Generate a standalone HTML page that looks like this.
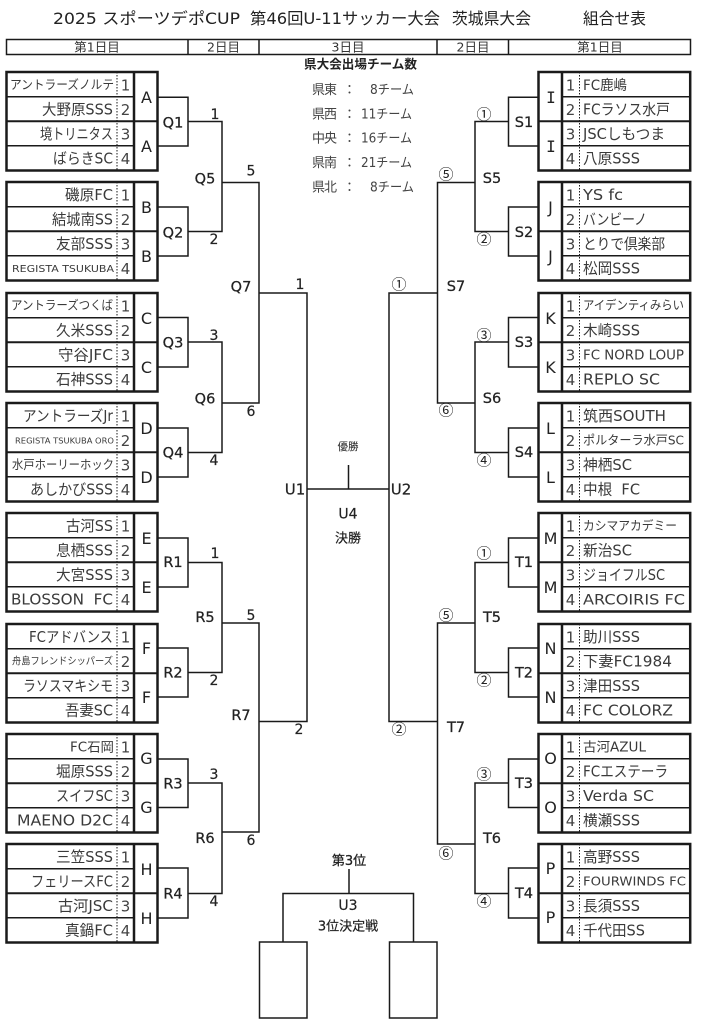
<!DOCTYPE html>
<html lang="ja">
<head>
<meta charset="utf-8">
<title>2025 スポーツデポCUP 組合せ表</title>
<style>
html,body{margin:0;padding:0;background:#fff;width:701px;height:1024px;overflow:hidden}
svg{display:block}
text{font-family:"DejaVu Sans","Noto Sans CJK JP",sans-serif;fill:#3a3a3a;font-size:15px}
.t{font-size:16px;fill:#222}
.h{font-size:12.5px;text-anchor:middle;fill:#333}
.b{font-size:12.5px;fill:#222;font-weight:bold}
.s{font-size:13px;fill:#444}
.num{font-size:15px;text-anchor:middle;fill:#444}
.g{font-size:16px;text-anchor:middle;fill:#222}
.l{font-size:14.5px;text-anchor:middle;fill:#222;stroke:#222;stroke-width:.25}
.m{font-size:14px;text-anchor:middle;fill:#222;stroke:#222;stroke-width:.2}
.x{font-size:12.5px}
.y{font-size:10px}
.z{font-size:8px}
.c{text-anchor:middle;fill:#222}
.o{font-family:"Noto Sans CJK JP",sans-serif;font-size:15px;text-anchor:middle;fill:#222}
path,rect,line{fill:none;stroke:#1a1a1a}
</style>
</head>
<body>
<svg width="701" height="1024" viewBox="0 0 701 1024" xmlns="http://www.w3.org/2000/svg">
<defs>
<g id="L">
<rect x="6.5" y="0" width="151" height="98.5" stroke-width="2.5"/>
<line x1="6" y1="24.8" x2="134" y2="24.8" stroke-width="1.5"/>
<line x1="6" y1="49.2" x2="158" y2="49.2" stroke-width="2"/>
<line x1="6" y1="73.8" x2="134" y2="73.8" stroke-width="1.5"/>
<line x1="134" y1="0" x2="134" y2="99" stroke-width="2.5"/>
<line x1="117" y1="0" x2="117" y2="99" stroke-width="1" stroke-dasharray="1.5 1.5"/>
</g>
<g id="R">
<rect x="538.5" y="0" width="151.7" height="98.5" stroke-width="2.5"/>
<line x1="562" y1="24.8" x2="690" y2="24.8" stroke-width="1.5"/>
<line x1="538" y1="49.2" x2="690" y2="49.2" stroke-width="2"/>
<line x1="562" y1="73.8" x2="690" y2="73.8" stroke-width="1.5"/>
<line x1="562" y1="0" x2="562" y2="99" stroke-width="2.5"/>
<line x1="579.5" y1="0" x2="579.5" y2="99" stroke-width="1" stroke-dasharray="1.5 1.5"/>
</g>
</defs>

<!-- title -->
<text class="t" x="53" y="24" textLength="187" lengthAdjust="spacingAndGlyphs">2025 スポーツデポCUP</text>
<text class="t" x="250" y="24" textLength="190" lengthAdjust="spacingAndGlyphs">第46回U-11サッカー大会</text>
<text class="t" x="452" y="24" textLength="79" lengthAdjust="spacingAndGlyphs">茨城県大会</text>
<text class="t" x="583" y="24" textLength="63" lengthAdjust="spacingAndGlyphs">組合せ表</text>

<!-- header -->
<rect x="6.5" y="39.5" width="684" height="15" stroke-width="1.5"/>
<path d="M188 39V55M259 39V55M437 39V55M508.5 39V55" stroke-width="1.5"/>
<text class="h" x="97" y="51.5">第1日目</text>
<text class="h" x="223.5" y="51.5">2日目</text>
<text class="h" x="348" y="51.5">3日目</text>
<text class="h" x="473" y="51.5">2日目</text>
<text class="h" x="600" y="51.5">第1日目</text>

<!-- team count -->
<text class="b" x="304" y="68.5" textLength="113" lengthAdjust="spacingAndGlyphs">県大会出場チーム数</text>
<text class="s" x="312" y="94" textLength="25">県東</text><text class="s" x="343" y="94">：</text><text class="s" x="370" y="94" textLength="44" lengthAdjust="spacingAndGlyphs">8チーム</text>
<text class="s" x="312" y="118.5" textLength="25">県西</text><text class="s" x="343" y="118.5">：</text><text class="s" x="361" y="118.5" textLength="51" lengthAdjust="spacingAndGlyphs">11チーム</text>
<text class="s" x="312" y="142.5" textLength="25">中央</text><text class="s" x="343" y="142.5">：</text><text class="s" x="361" y="142.5" textLength="51" lengthAdjust="spacingAndGlyphs">16チーム</text>
<text class="s" x="312" y="167" textLength="25">県南</text><text class="s" x="343" y="167">：</text><text class="s" x="361" y="167" textLength="51" lengthAdjust="spacingAndGlyphs">21チーム</text>
<text class="s" x="312" y="191.5" textLength="25">県北</text><text class="s" x="343" y="191.5">：</text><text class="s" x="370" y="191.5" textLength="44" lengthAdjust="spacingAndGlyphs">8チーム</text>

<!-- group grids -->
<use href="#L" y="72"/><use href="#L" y="182"/><use href="#L" y="293"/><use href="#L" y="403"/>
<use href="#L" y="513"/><use href="#L" y="624"/><use href="#L" y="734"/><use href="#L" y="844"/>
<use href="#R" y="72"/><use href="#R" y="182"/><use href="#R" y="293"/><use href="#R" y="403"/>
<use href="#R" y="513"/><use href="#R" y="624"/><use href="#R" y="734"/><use href="#R" y="844"/>

<!-- left brackets -->
<path stroke-width="1.5" d="
M158 97.3H188V146H158M188 121.5H222V231.5H188
M158 207H188V256H158
M222 182.5H259V403H222
M158 317.5H188V367H158M188 342H222V452.5H188
M158 428H188V477H158
M259 293H307V721.5H259
M158 538H188V587H158M188 562.5H222V672.5H188
M158 648H188V697H158
M222 623H259V832H222
M158 759H188V807.5H158M188 783H222V893.5H188
M158 868H188V918H158"/>

<!-- right brackets -->
<path stroke-width="1.5" d="
M538 97.3H508.5V146H538M508.5 121.5H475V231.5H508.5
M538 207H508.5V256H538
M475 182.5H437.5V403H475
M538 317.5H508.5V367H538M508.5 342H475V452.5H508.5
M538 428H508.5V477H538
M437.5 293H389V721.5H437.5
M538 538H508.5V587H538M508.5 562.5H475V672.5H508.5
M538 648H508.5V697H538
M475 623H437.5V844H475
M538 759H508.5V807.5H538M508.5 783H475V893.5H508.5
M538 868H508.5V918H538"/>

<!-- final & third place -->
<path stroke-width="1.5" d="M307 489H389M348.5 465V489"/>
<path stroke-width="1.5" d="M283 942V893.5H413.5V942M349 869V893.5"/>
<rect x="259.5" y="942" width="47.5" height="76" stroke-width="1.5"/>
<rect x="389.5" y="942" width="47.5" height="76" stroke-width="1.5"/>

<text class="c" x="348" y="450" style="font-size:10.5px">優勝</text>
<text class="m" x="348" y="518.5">U4</text>
<text class="c" x="348" y="542.5" style="font-size:13px;stroke:#222;stroke-width:.2">決勝</text>
<text class="c" x="349" y="865" style="font-size:13px;stroke:#222;stroke-width:.3">第3位</text>
<text class="m" x="348" y="910">U3</text>
<text class="c" x="348" y="930.5" style="font-size:13px;stroke:#222;stroke-width:.2">3位決定戦</text>

<!-- numbers left -->
<g>
<text class="num" x="125.5" y="90.5">1</text><text class="num" x="125.5" y="115">2</text><text class="num" x="125.5" y="139.5">3</text><text class="num" x="125.5" y="164">4</text>
<text class="num" x="125.5" y="200.5">1</text><text class="num" x="125.5" y="225">2</text><text class="num" x="125.5" y="249.5">3</text><text class="num" x="125.5" y="274">4</text>
<text class="num" x="125.5" y="311.5">1</text><text class="num" x="125.5" y="336">2</text><text class="num" x="125.5" y="360.5">3</text><text class="num" x="125.5" y="385">4</text>
<text class="num" x="125.5" y="421.5">1</text><text class="num" x="125.5" y="446">2</text><text class="num" x="125.5" y="470.5">3</text><text class="num" x="125.5" y="495">4</text>
<text class="num" x="125.5" y="531.5">1</text><text class="num" x="125.5" y="556">2</text><text class="num" x="125.5" y="580.5">3</text><text class="num" x="125.5" y="605">4</text>
<text class="num" x="125.5" y="642.5">1</text><text class="num" x="125.5" y="667">2</text><text class="num" x="125.5" y="691.5">3</text><text class="num" x="125.5" y="716">4</text>
<text class="num" x="125.5" y="752.5">1</text><text class="num" x="125.5" y="777">2</text><text class="num" x="125.5" y="801.5">3</text><text class="num" x="125.5" y="826">4</text>
<text class="num" x="125.5" y="862.5">1</text><text class="num" x="125.5" y="887">2</text><text class="num" x="125.5" y="911.5">3</text><text class="num" x="125.5" y="936">4</text>
</g>
<!-- numbers right -->
<g>
<text class="num" x="570.5" y="90.5">1</text><text class="num" x="570.5" y="115">2</text><text class="num" x="570.5" y="139.5">3</text><text class="num" x="570.5" y="164">4</text>
<text class="num" x="570.5" y="200.5">1</text><text class="num" x="570.5" y="225">2</text><text class="num" x="570.5" y="249.5">3</text><text class="num" x="570.5" y="274">4</text>
<text class="num" x="570.5" y="311.5">1</text><text class="num" x="570.5" y="336">2</text><text class="num" x="570.5" y="360.5">3</text><text class="num" x="570.5" y="385">4</text>
<text class="num" x="570.5" y="421.5">1</text><text class="num" x="570.5" y="446">2</text><text class="num" x="570.5" y="470.5">3</text><text class="num" x="570.5" y="495">4</text>
<text class="num" x="570.5" y="531.5">1</text><text class="num" x="570.5" y="556">2</text><text class="num" x="570.5" y="580.5">3</text><text class="num" x="570.5" y="605">4</text>
<text class="num" x="570.5" y="642.5">1</text><text class="num" x="570.5" y="667">2</text><text class="num" x="570.5" y="691.5">3</text><text class="num" x="570.5" y="716">4</text>
<text class="num" x="570.5" y="752.5">1</text><text class="num" x="570.5" y="777">2</text><text class="num" x="570.5" y="801.5">3</text><text class="num" x="570.5" y="826">4</text>
<text class="num" x="570.5" y="862.5">1</text><text class="num" x="570.5" y="887">2</text><text class="num" x="570.5" y="911.5">3</text><text class="num" x="570.5" y="936">4</text>
</g>

<!-- group letters left -->
<text class="g" x="146.5" y="103">A</text><text class="g" x="146.5" y="152">A</text>
<text class="g" x="146.5" y="213">B</text><text class="g" x="146.5" y="262">B</text>
<text class="g" x="146.5" y="324">C</text><text class="g" x="146.5" y="373">C</text>
<text class="g" x="146.5" y="434">D</text><text class="g" x="146.5" y="483">D</text>
<text class="g" x="146.5" y="544">E</text><text class="g" x="146.5" y="593">E</text>
<text class="g" x="146.5" y="654">F</text><text class="g" x="146.5" y="703">F</text>
<text class="g" x="146.5" y="764">G</text><text class="g" x="146.5" y="813">G</text>
<text class="g" x="146.5" y="875">H</text><text class="g" x="146.5" y="924">H</text>
<!-- group letters right -->
<text class="g" x="551" y="103" style="font-family:'DejaVu Sans Mono',monospace">I</text><text class="g" x="551" y="152" style="font-family:'DejaVu Sans Mono',monospace">I</text>
<text class="g" x="550.5" y="213">J</text><text class="g" x="550.5" y="262">J</text>
<text class="g" x="550.5" y="324">K</text><text class="g" x="550.5" y="373">K</text>
<text class="g" x="550.5" y="434">L</text><text class="g" x="550.5" y="483">L</text>
<text class="g" x="550.5" y="544">M</text><text class="g" x="550.5" y="593">M</text>
<text class="g" x="550.5" y="654">N</text><text class="g" x="550.5" y="703">N</text>
<text class="g" x="550.5" y="764">O</text><text class="g" x="550.5" y="813">O</text>
<text class="g" x="550.5" y="874">P</text><text class="g" x="550.5" y="923">P</text>

<!-- left teams -->
<text class="x" x="10" y="89" textLength="104" lengthAdjust="spacingAndGlyphs">アントラーズノルテ</text>
<text x="42" y="114.5" textLength="71" lengthAdjust="spacingAndGlyphs">大野原SSS</text>
<text x="40" y="139" textLength="73" lengthAdjust="spacingAndGlyphs">境トリニタス</text>
<text x="53" y="163.5" textLength="60" lengthAdjust="spacingAndGlyphs">ばらきSC</text>
<text x="65" y="200" textLength="48" lengthAdjust="spacingAndGlyphs">磯原FC</text>
<text x="52" y="224.5" textLength="61" lengthAdjust="spacingAndGlyphs">結城南SS</text>
<text x="56" y="249" textLength="57" lengthAdjust="spacingAndGlyphs">友部SSS</text>
<text class="y" x="12" y="272" textLength="102" lengthAdjust="spacingAndGlyphs">REGISTA TSUKUBA</text>
<text class="x" x="11" y="309.5" textLength="102" lengthAdjust="spacingAndGlyphs">アントラーズつくば</text>
<text x="56" y="335.5" textLength="57" lengthAdjust="spacingAndGlyphs">久米SSS</text>
<text x="58" y="360" textLength="55" lengthAdjust="spacingAndGlyphs">守谷JFC</text>
<text x="56" y="384.5" textLength="57" lengthAdjust="spacingAndGlyphs">石神SSS</text>
<text x="23" y="421" textLength="90" lengthAdjust="spacingAndGlyphs">アントラーズJr</text>
<text class="z" x="15" y="443.5" textLength="99" lengthAdjust="spacingAndGlyphs">REGISTA TSUKUBA ORO</text>
<text class="x" x="12" y="469" textLength="102" lengthAdjust="spacingAndGlyphs">水戸ホーリーホック</text>
<text x="30" y="494.5" textLength="83" lengthAdjust="spacingAndGlyphs">あしかびSSS</text>
<text x="66" y="531" textLength="47" lengthAdjust="spacingAndGlyphs">古河SS</text>
<text x="56" y="555.5" textLength="57" lengthAdjust="spacingAndGlyphs">息栖SSS</text>
<text x="56" y="580" textLength="57" lengthAdjust="spacingAndGlyphs">大宮SSS</text>
<text x="11" y="604.5" textLength="102" lengthAdjust="spacingAndGlyphs" xml:space="preserve" style="white-space:pre">BLOSSON  FC</text>
<text x="29" y="642" textLength="84" lengthAdjust="spacingAndGlyphs">FCアドバンス</text>
<text class="y" x="12" y="664.5" textLength="101" lengthAdjust="spacingAndGlyphs">舟島フレンドシッパーズ</text>
<text x="23" y="691" textLength="90" lengthAdjust="spacingAndGlyphs">ラソスマキシモ</text>
<text x="65" y="715.5" textLength="48" lengthAdjust="spacingAndGlyphs">吾妻SC</text>
<text style="font-size:13px" x="70" y="751.5" textLength="44" lengthAdjust="spacingAndGlyphs">FC石岡</text>
<text x="56" y="776.5" textLength="57" lengthAdjust="spacingAndGlyphs">堀原SSS</text>
<text x="56" y="801" textLength="57" lengthAdjust="spacingAndGlyphs">スイフSC</text>
<text x="17" y="825.5" textLength="96" lengthAdjust="spacingAndGlyphs">MAENO D2C</text>
<text x="56" y="862" textLength="57" lengthAdjust="spacingAndGlyphs">三笠SSS</text>
<text x="31" y="886.5" textLength="82" lengthAdjust="spacingAndGlyphs">フェリースFC</text>
<text x="58" y="911" textLength="55" lengthAdjust="spacingAndGlyphs">古河JSC</text>
<text x="65" y="935.5" textLength="48" lengthAdjust="spacingAndGlyphs">真鍋FC</text>

<!-- right teams -->
<text style="font-size:14px" x="583" y="90" textLength="44" lengthAdjust="spacingAndGlyphs">FC鹿嶋</text>
<text x="583" y="114.5" textLength="87" lengthAdjust="spacingAndGlyphs">FCラソス水戸</text>
<text x="583" y="139" textLength="82" lengthAdjust="spacingAndGlyphs">JSCしもつま</text>
<text x="583" y="163.5" textLength="57" lengthAdjust="spacingAndGlyphs">八原SSS</text>
<text x="583" y="200" textLength="40" lengthAdjust="spacingAndGlyphs">YS fc</text>
<text x="583" y="224.5" textLength="64" lengthAdjust="spacingAndGlyphs">バンビーノ</text>
<text x="583" y="249" textLength="82" lengthAdjust="spacingAndGlyphs">とりで倶楽部</text>
<text x="583" y="273.5" textLength="57" lengthAdjust="spacingAndGlyphs">松岡SSS</text>
<text class="x" x="583" y="309.5" textLength="101" lengthAdjust="spacingAndGlyphs">アイデンティみらい</text>
<text x="583" y="335.5" textLength="57" lengthAdjust="spacingAndGlyphs">木崎SSS</text>
<text style="font-size:13px" x="583" y="359.5" textLength="101" lengthAdjust="spacingAndGlyphs">FC NORD LOUP</text>
<text x="583" y="384.5" textLength="77" lengthAdjust="spacingAndGlyphs">REPLO SC</text>
<text x="583" y="421" textLength="83" lengthAdjust="spacingAndGlyphs">筑西SOUTH</text>
<text class="x" x="583" y="444.5" textLength="101" lengthAdjust="spacingAndGlyphs">ポルターラ水戸SC</text>
<text x="583" y="470" textLength="49" lengthAdjust="spacingAndGlyphs">神栖SC</text>
<text x="583" y="494.5" textLength="57" lengthAdjust="spacingAndGlyphs" xml:space="preserve" style="white-space:pre">中根  FC</text>
<text class="x" x="583" y="530" textLength="94" lengthAdjust="spacingAndGlyphs">カシマアカデミー</text>
<text x="583" y="555.5" textLength="49" lengthAdjust="spacingAndGlyphs">新治SC</text>
<text x="583" y="580" textLength="82" lengthAdjust="spacingAndGlyphs">ジョイフルSC</text>
<text style="font-size:14px" x="583" y="604.5" textLength="102" lengthAdjust="spacingAndGlyphs">ARCOIRIS FC</text>
<text x="583" y="642" textLength="57" lengthAdjust="spacingAndGlyphs">助川SSS</text>
<text x="583" y="666.5" textLength="89" lengthAdjust="spacingAndGlyphs">下妻FC1984</text>
<text x="583" y="691" textLength="57" lengthAdjust="spacingAndGlyphs">津田SSS</text>
<text x="583" y="715.5" textLength="90" lengthAdjust="spacingAndGlyphs">FC COLORZ</text>
<text style="font-size:13px" x="583" y="751.5" textLength="63" lengthAdjust="spacingAndGlyphs">古河AZUL</text>
<text x="583" y="776.5" textLength="85" lengthAdjust="spacingAndGlyphs">FCエステーラ</text>
<text x="583" y="801" textLength="71" lengthAdjust="spacingAndGlyphs">Verda SC</text>
<text x="583" y="825.5" textLength="57" lengthAdjust="spacingAndGlyphs">横瀬SSS</text>
<text x="583" y="862" textLength="57" lengthAdjust="spacingAndGlyphs">高野SSS</text>
<text style="font-size:12.5px" x="583" y="885.5" textLength="103" lengthAdjust="spacingAndGlyphs">FOURWINDS FC</text>
<text x="583" y="911" textLength="57" lengthAdjust="spacingAndGlyphs">長須SSS</text>
<text x="583" y="935.5" textLength="62" lengthAdjust="spacingAndGlyphs">千代田SS</text>

<!-- left match labels -->
<text class="l" x="173" y="127.5">Q1</text><text class="l" x="173" y="237.5">Q2</text><text class="l" x="173" y="347.5">Q3</text><text class="l" x="173" y="457.5">Q4</text>
<text class="l" x="205" y="183.5">Q5</text><text class="l" x="205" y="403.5">Q6</text><text class="l" x="241" y="291.5">Q7</text>
<text class="l" x="173" y="567">R1</text><text class="l" x="173" y="677.5">R2</text><text class="l" x="173" y="788.5">R3</text><text class="l" x="173" y="898.5">R4</text>
<text class="l" x="205" y="622">R5</text><text class="l" x="205" y="843">R6</text><text class="l" x="241" y="720">R7</text>
<text class="m" x="295" y="494.5" style="font-size:15px">U1</text>

<text class="m" x="215" y="119">1</text><text class="m" x="214" y="244">2</text><text class="m" x="251" y="175.5">5</text><text class="m" x="300" y="289">1</text>
<text class="m" x="214" y="340">3</text><text class="m" x="214" y="465">4</text><text class="m" x="251" y="416">6</text>
<text class="m" x="215" y="558">1</text><text class="m" x="214" y="685">2</text><text class="m" x="251" y="620">5</text><text class="m" x="299" y="734">2</text>
<text class="m" x="214" y="779">3</text><text class="m" x="214" y="906">4</text><text class="m" x="251" y="845">6</text>

<!-- right match labels -->
<text class="l" x="524" y="127">S1</text><text class="l" x="524" y="237">S2</text><text class="l" x="524" y="347">S3</text><text class="l" x="524" y="457">S4</text>
<text class="l" x="492" y="183">S5</text><text class="l" x="492" y="403">S6</text><text class="l" x="456" y="291">S7</text>
<text class="l" x="524" y="567">T1</text><text class="l" x="524" y="677.5">T2</text><text class="l" x="524" y="788">T3</text><text class="l" x="524" y="898">T4</text>
<text class="l" x="492" y="622">T5</text><text class="l" x="492" y="843">T6</text><text class="l" x="456" y="732">T7</text>
<text class="m" x="401" y="494.5" style="font-size:15px">U2</text>

<text class="o" x="484" y="119.5">①</text><text class="o" x="484" y="244.5">②</text><text class="o" x="446" y="179.5">⑤</text><text class="o" x="399" y="289.5">①</text>
<text class="o" x="484" y="340.5">③</text><text class="o" x="484" y="465.5">④</text><text class="o" x="446" y="415.5">⑥</text>
<text class="o" x="484" y="558.5">①</text><text class="o" x="484" y="685.5">②</text><text class="o" x="446" y="620.5">⑤</text><text class="o" x="399" y="734.5">②</text>
<text class="o" x="484" y="779.5">③</text><text class="o" x="484" y="906.5">④</text><text class="o" x="446" y="858.5">⑥</text>
</svg>
</body>
</html>
